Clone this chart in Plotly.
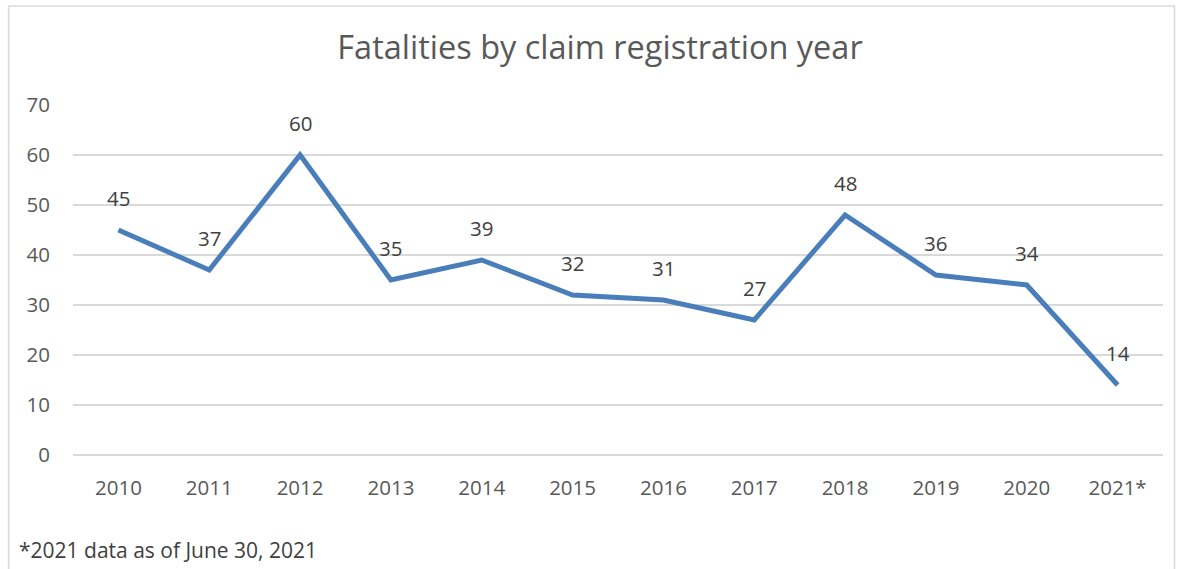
import plotly.graph_objects as go

years = ["2010", "2011", "2012", "2013", "2014", "2015", "2016", "2017", "2018", "2019", "2020", "2021*"]
fatalities = [45, 37, 60, 35, 39, 32, 31, 27, 48, 36, 34, 14]
y_ticks = [0, 10, 20, 30, 40, 50, 60, 70]

FONT = "'Open Sans', Lato, sans-serif"
W, H = 1183, 569
L, R, T, B = 72.5, 19.5, 105, 114
pw, ph = W - L - R, H - T - B

fig = go.Figure()
fig.add_trace(go.Scatter(
    x=years, y=fatalities, mode="lines",
    line=dict(color="#4A7EBB", width=5),
    hoverinfo="x+y", showlegend=False,
))

for i, yv in enumerate(fatalities):
    fig.add_annotation(x=i, y=yv, text=str(yv), showarrow=False,
                       yshift=32, font=dict(family=FONT, size=20.5, color="#404040"))

# footnote
fig.add_annotation(xref="paper", yref="paper", x=(16 - L) / pw, y=(455 - 550) / ph,
                   xanchor="left", yanchor="middle", showarrow=False,
                   text="*2021 data as of June 30, 2021",
                   font=dict(family=FONT, size=21, color="#404040"))

# chart border
fig.add_shape(type="rect", xref="paper", yref="paper",
              x0=(8 - L) / pw, x1=(1175 - L) / pw,
              y0=(455 - 600) / ph, y1=(455 - 6) / ph,
              line=dict(color="#D9D9D9", width=1.5), fillcolor="rgba(0,0,0,0)", layer="below")

fig.update_layout(
    width=W, height=H,
    margin=dict(l=L, r=R, t=T, b=B, autoexpand=False),
    paper_bgcolor="white", plot_bgcolor="white",
    title=dict(text="Fatalities by claim registration year",
               x=(600 - L) / pw, xref="paper", xanchor="center",
               y=1 - 48 / H, yref="container", yanchor="middle",
               font=dict(family=FONT, size=32.5, color="#595959")),
    xaxis=dict(type="category", range=[-0.5, 11.5], showgrid=False, showline=False,
               zeroline=False, ticks="", ticklabelstandoff=18,
               tickfont=dict(family=FONT, size=20.5, color="#595959")),
    yaxis=dict(range=[0, 70], tickvals=y_ticks, showgrid=True, gridcolor="#D9D9D9",
               gridwidth=1.5, zeroline=True, zerolinecolor="#D9D9D9", zerolinewidth=1.5,
               showline=False, ticks="", ticklabelstandoff=22,
               tickfont=dict(family=FONT, size=20.5, color="#595959")),
)

fig.write_html("out.html", post_script="document.body.style.margin='0';",
               config={"displayModeBar": False})
